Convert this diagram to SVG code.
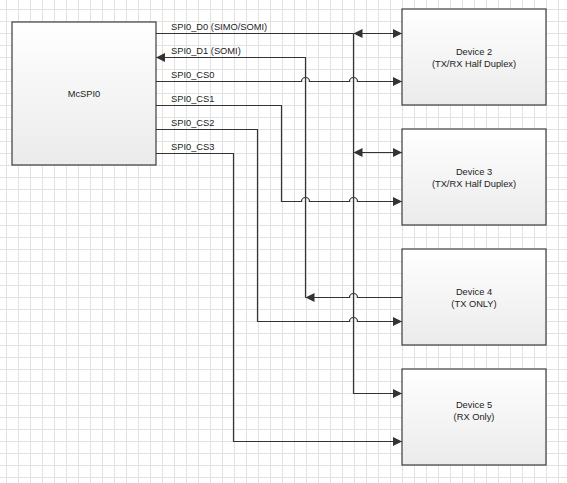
<svg xmlns="http://www.w3.org/2000/svg" width="567" height="483" viewBox="0 0 567 483">
<style>
  .box { fill: url(#boxGrad); stroke: #3c3c3c; stroke-width: 1.2; }
  .lbl { font-family: "Liberation Sans", Arial, sans-serif; font-size: 9.3px; fill: #222; }
  .ctr { text-anchor: middle; }
  .wire { fill: none; stroke: #333; stroke-width: 1.2; }
</style>
<defs>
  <linearGradient id="boxGrad" x1="0" y1="0" x2="0" y2="1">
    <stop offset="0" stop-color="#ffffff"/>
    <stop offset="1" stop-color="#ebebeb"/>
  </linearGradient>
  <pattern id="gridMinor" x="6" y="9" width="12" height="12" patternUnits="userSpaceOnUse">
    <path d="M0.5,0 V12 M0,0.5 H12" fill="none" stroke="#e2e2e2" stroke-width="1"/>
  </pattern>
  <marker id="arr" viewBox="0 0 10 10" refX="10" refY="5" markerWidth="10" markerHeight="9" markerUnits="userSpaceOnUse" orient="auto-start-reverse">
    <path d="M0,0 L10,5 L0,10 Z" fill="#333"/>
  </marker>
</defs>
<rect x="0" y="0" width="567" height="483" fill="#ffffff"/>
<rect x="0" y="0" width="567" height="483" fill="url(#gridMinor)"/>

<g id="connectors">
  <path class="wire" d="M353.5,33.5 V393.5 H402" marker-end="url(#arr)"/>
  <path class="wire" d="M156,33.5 H353.5"/>
  <path class="wire" d="M353.5,33.5 H402" marker-start="url(#arr)" marker-end="url(#arr)"/>
  <path class="wire" d="M353.5,152.5 H402" marker-start="url(#arr)" marker-end="url(#arr)"/>
  <path class="wire" d="M402,297.5 H357.5 A4,4 0 0 0 349.5,297.5 H305.5" marker-end="url(#arr)"/>
  <path class="wire" d="M305.5,297.5 V57.5 H156" marker-end="url(#arr)"/>
  <path class="wire" d="M156,81.5 H301.5 A4,4 0 0 1 309.5,81.5 H349.5 A4,4 0 0 1 357.5,81.5 H402" marker-end="url(#arr)"/>
  <path class="wire" d="M156,105.5 H281.5 V201.5 H301.5 A4,4 0 0 1 309.5,201.5 H349.5 A4,4 0 0 1 357.5,201.5 H402" marker-end="url(#arr)"/>
  <path class="wire" d="M156,129.5 H257.5 V321.5 H349.5 A4,4 0 0 1 357.5,321.5 H402" marker-end="url(#arr)"/>
  <path class="wire" d="M156,153.5 H233.5 V441.5 H402" marker-end="url(#arr)"/>

  <text class="lbl" x="171" y="30">SPI0_D0 (SIMO/SOMI)</text>
  <text class="lbl" x="171" y="54">SPI0_D1 (SOMI)</text>
  <text class="lbl" x="171" y="78">SPI0_CS0</text>
  <text class="lbl" x="171" y="102">SPI0_CS1</text>
  <text class="lbl" x="171" y="126">SPI0_CS2</text>
  <text class="lbl" x="171" y="150">SPI0_CS3</text>
</g>

<g id="mcspi0">
  <rect class="box" x="12" y="22" width="144" height="143"/>
  <text class="lbl ctr" x="84" y="97">McSPI0</text>
</g>
<g id="device2">
  <rect class="box" x="402" y="9" width="144" height="96"/>
  <text class="lbl ctr" x="474" y="55">Device 2</text>
  <text class="lbl ctr" x="474" y="67">(TX/RX Half Duplex)</text>
</g>
<g id="device3">
  <rect class="box" x="402" y="129" width="144" height="96"/>
  <text class="lbl ctr" x="474" y="175">Device 3</text>
  <text class="lbl ctr" x="474" y="187">(TX/RX Half Duplex)</text>
</g>
<g id="device4">
  <rect class="box" x="402" y="249" width="144" height="96"/>
  <text class="lbl ctr" x="474" y="295">Device 4</text>
  <text class="lbl ctr" x="474" y="307">(TX ONLY)</text>
</g>
<g id="device5">
  <rect class="box" x="402" y="369" width="144" height="96"/>
  <text class="lbl ctr" x="474" y="408">Device 5</text>
  <text class="lbl ctr" x="474" y="420">(RX Only)</text>
</g>
</svg>
